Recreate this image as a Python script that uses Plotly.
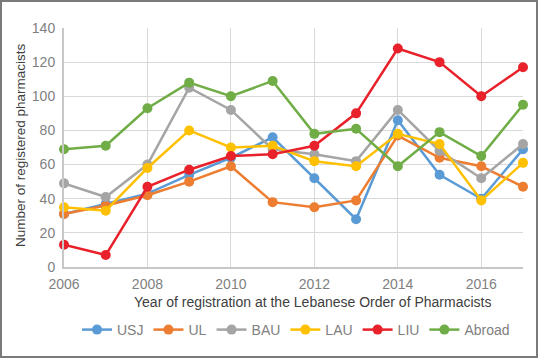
import plotly.graph_objects as go

years = list(range(2006, 2018))
usj = [31, 37, 43, 54, 64, 76, 52, 28, 86, 54, 40, 69]
ul = [31, 36, 42, 50, 59, 38, 35, 39, 77, 64, 59, 47]
bau = [49, 41, 60, 105, 92, 69, 66, 62, 92, 68, 52, 72]
lau = [35, 33, 58, 80, 70, 71, 62, 59, 78, 72, 39, 61]
liu = [13, 7, 47, 57, 65, 66, 71, 90, 128, 120, 100, 117]
abroad = [69, 71, 93, 108, 100, 109, 78, 81, 59, 79, 65, 95]

series = [
    ("USJ", usj, "#5B9BD5"),
    ("UL", ul, "#ED7D31"),
    ("BAU", bau, "#A5A5A5"),
    ("LAU", lau, "#FFC000"),
    ("LIU", liu, "#E8212A"),
    ("Abroad", abroad, "#70AD47"),
]

fig = go.Figure()
for name, vals, col in series:
    fig.add_trace(go.Scatter(
        x=years, y=vals, name=name, mode="lines+markers",
        line=dict(color=col, width=2.5),
        marker=dict(color=col, size=10),
        cliponaxis=False,
    ))

W, H = 538, 358
L, R, T, B = 64, 523, 28, 267
pw, ph = R - L, B - T

def px(x):
    return (x - L) / pw

def py(y):
    return (B - y) / ph

font = "Liberation Sans, Arial, sans-serif"

fig.update_layout(
    width=W, height=H,
    margin=dict(l=L, r=W - R, t=T, b=H - B, autoexpand=False),
    paper_bgcolor="white", plot_bgcolor="white",
    font=dict(family=font, size=14, color="#7f7f7f"),
    showlegend=True,
    legend=dict(orientation="h", x=px(296), xanchor="center", y=py(330), yanchor="middle",
                font=dict(size=14, color="#7f7f7f"), itemwidth=30,
                tracegroupgap=0, bgcolor="rgba(0,0,0,0)"),
    xaxis=dict(range=[2006, 2017], tick0=2006, dtick=2, showgrid=True,
               gridcolor="#d9d9d9", gridwidth=1, zeroline=False,
               showline=True, linecolor="#c8c8c8", linewidth=2,
               ticks="", ticklabelstandoff=3,
               tickfont=dict(size=14, color="#7f7f7f")),
    yaxis=dict(range=[0, 140], tick0=0, dtick=20, showgrid=True,
               gridcolor="#d9d9d9", gridwidth=1, zeroline=False,
               showline=True, linecolor="#c8c8c8", linewidth=2,
               ticks="", ticklabelstandoff=4,
               tickfont=dict(size=14, color="#7f7f7f")),
    annotations=[
        dict(text="Year of registration at the Lebanese Order of Pharmacists",
             xref="paper", yref="paper", x=px(312), y=py(302),
             xanchor="center", yanchor="middle", showarrow=False,
             font=dict(size=14, color="#404040")),
        dict(text="Number of registered pharmacists",
             xref="paper", yref="paper", x=px(20), y=py(145),
             xanchor="center", yanchor="middle", showarrow=False, textangle=-90,
             font=dict(size=13.5, color="#404040")),
    ],
    shapes=[
        dict(type="rect", xref="paper", yref="paper",
             x0=px(1), x1=px(537), y0=py(357), y1=py(1),
             line=dict(color="#7a7a7a", width=2), layer="above"),
    ],
)

fig.write_html("out.html", config={"displayModeBar": False},
               post_script="document.body.style.margin='0';document.body.style.overflow='hidden';")
